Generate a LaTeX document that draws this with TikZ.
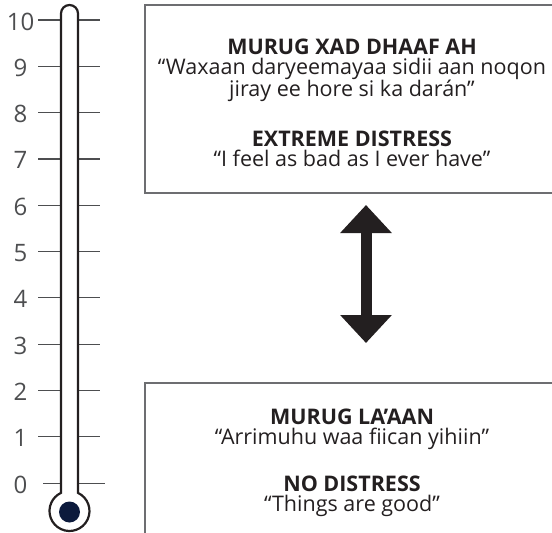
\documentclass[tikz,border=0pt]{standalone}
\usepackage{fontspec}
\setmainfont{Open Sans}
\usepackage{tikz}
\usetikzlibrary{arrows.meta}
\definecolor{inkblack}{HTML}{231F20}
\definecolor{tickgray}{HTML}{4D4E50}
\definecolor{boxgray}{HTML}{6D6E71}
\definecolor{bulbnavy}{HTML}{0C1A3C}

\begin{document}
\begin{tikzpicture}[
  x=1pt, y=1pt,
  tube/.style={draw=inkblack, line width=2.2pt, fill=white},
  tick/.style={draw=tickgray, line width=1.2pt},
  level/.style={font=\fontsize{24}{24}\selectfont, text=tickgray, inner sep=0pt},
  panel/.style={draw=boxgray, line width=1.2pt},
  caption/.style={font=\fontsize{21.5}{20}\selectfont, text=inkblack,
  align=center, inner sep=0pt, anchor=north},
  updown/.style={draw=inkblack, line width=11pt,
  {Triangle[width=50pt,length=28pt]}-{Triangle[width=50pt,length=28pt]}},
]
\useasboundingbox (0,0) rectangle (552,-533);
% scale of the thermometer
\foreach \n in {1,...,10} {
  \pgfmathsetmacro{\ty}{-20-(10-\n)*46.3}
  \node[level] (lvl\n) at (20.5,\ty-1.5) {\n};
  \draw[tick] (38,\ty) -- (61,\ty) (78,\ty) -- (100,\ty);
}
\node[level] (lvl0) at (20.5,-484.8) {0};
\draw[tick] (43,-483.3) -- (61,-483.3) (78,-483.3) -- (105,-483.3);
% tube and bulb
\draw[tube] (61,-13.5) arc[start angle=180, end angle=0, radius=8.5]
  -- (78,-492.9) arc[start angle=64.8, end angle=-244.8, radius=20] -- cycle;
\fill[bulbnavy] (69.5,-512) circle (10.5);
% the two panels
\draw[panel] (552,-5) -- (145,-5) -- (145,-193) -- (552,-193);
\draw[panel] (552,-383) -- (145,-383) -- (145,-533);
\node[caption] (worst) at (352,-38.3) {\textbf{MURUG XAD DHAAF AH}\\
  “Waxaan daryeemayaa sidii aan noqon\\
  jiray ee hore si ka darán”\\[28pt]
  \textbf{EXTREME DISTRESS}\\
  “I feel as bad as I ever have”};
\node[caption] (best) at (352,-409) {\textbf{MURUG LA’AAN}\\
  “Arrimuhu waa fiican yihiin”\\[25pt]
  \textbf{NO DISTRESS}\\
  “Things are good”};
% arrow between them
\coordinate (hi) at (366,-205);
\coordinate (lo) at (366,-343);
\draw[updown] (lo) -- (hi);
\end{tikzpicture}
\end{document}
